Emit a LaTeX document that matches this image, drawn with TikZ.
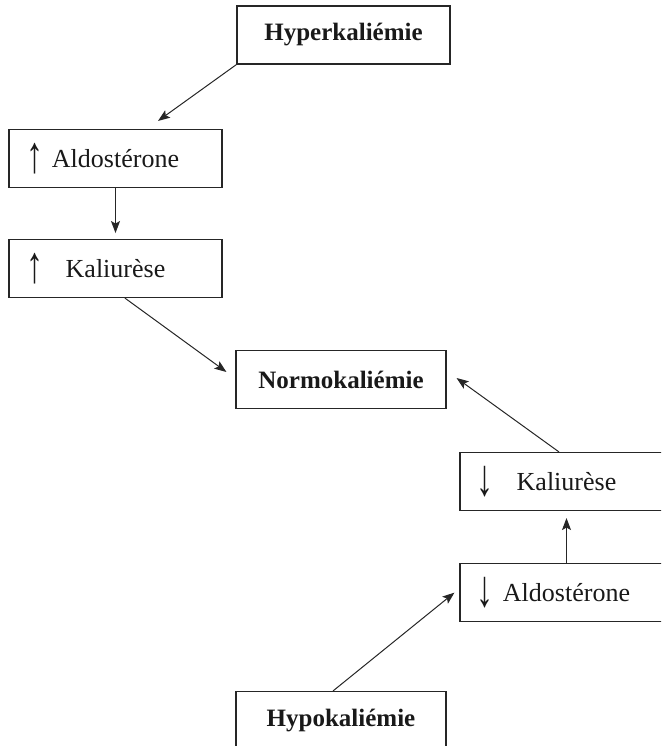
\documentclass[tikz,border=0pt]{standalone}
\usepackage{fontspec}
\setmainfont{Liberation Serif}
\usepackage{tikz}
\usetikzlibrary{arrows.meta,positioning}

\begin{document}
\begin{tikzpicture}
	[x=1pt, y=-1pt,
		% STYLES
		% The etat style is used for the three potassium levels
		etat/.style={rectangle, draw=black!85, line width=1.1pt, inner sep=0pt,
				minimum width=210pt, minimum height=58pt, text=black!90,
				font=\fontsize{25}{30}\selectfont\bfseries},
		% The reponse style is used for the hormonal answer
		reponse/.style={rectangle, draw=black!85, line width=1.1pt, inner sep=0pt,
				minimum width=213pt, minimum height=58pt, text=black!90,
				font=\fontsize{26}{30}\selectfont},
		% up or down sign in front of the text
		signe/.style={inner sep=0pt, text=black!90, font=\fontsize{40}{40}\selectfont,
				xscale=0.85, yscale=1.3, transform shape},
		link/.style={line width=1pt, -{Stealth[length=12pt,width=9pt,inset=2.5pt]},
				every edge/.append style={draw=black!85}}]

	\useasboundingbox (0,0) rectangle (661,746);
	\clip (0,0) rectangle (661,746);

	% Draw states
	\node [etat, minimum width=213pt] (a) at (343.5,35) {Hyperkaliémie};
	\node [reponse] (b) at (115.5,158.5) {Aldostérone};
	\node [reponse, below=51pt of b] (c) {Kaliurèse};
	\node [etat] (d) at (341,379.5) {Normokaliémie};
	\node [reponse] (e) at (566.5,481.5) {Kaliurèse};
	\node [reponse, below=52pt of e] (f) {Aldostérone};
	\node [etat] (g) at (341,720.5) {Hypokaliémie};

	% Signs
	\node [signe] (bs) at ([xshift=27pt]b.west) {↑};
	\node [signe] (cs) at ([xshift=27pt]c.west) {↑};
	\node [signe] (es) at ([xshift=26pt]e.west) {↓};
	\node [signe] (fs) at ([xshift=26pt]f.west) {↓};

	\path[link]
	(a.south west) edge ([xshift=42.5pt,yshift=8pt]b.north)
	(b) edge ([yshift=6pt]c.north)
	([xshift=9.5pt]c.south) edge ([xshift=-9pt,yshift=7.5pt]d.west)
	([xshift=-7.5pt]e.north) edge ([xshift=10pt,yshift=1.5pt]d.east)
	(f) edge ([yshift=-7pt]e.south)
	([xshift=-8pt]g.north) edge ([xshift=-5pt]f.west);
\end{tikzpicture}
\end{document}
